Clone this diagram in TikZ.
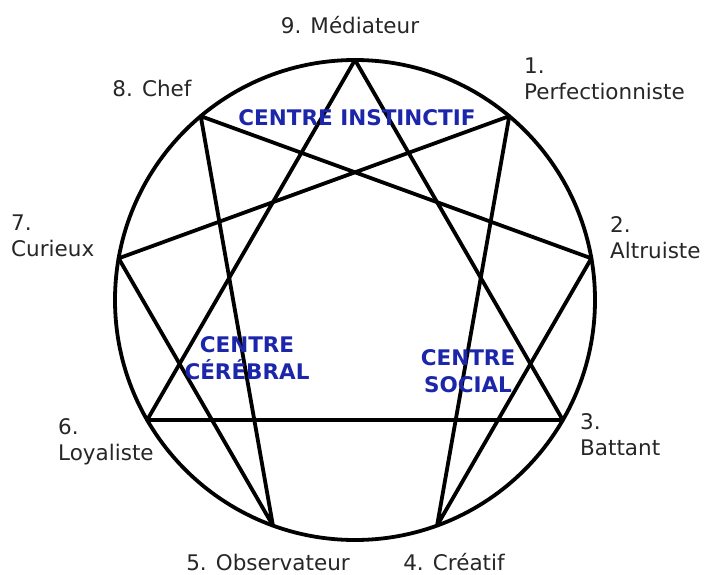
\documentclass[tikz,border=0pt]{standalone}
\usepackage{fontspec}
\setmainfont{DejaVu Sans}
\usetikzlibrary{calc}
\definecolor{cblue}{RGB}{28,38,170}
\begin{document}
\begin{tikzpicture}[
  line/.style={line width=3.8pt, line join=round, line cap=round},
  lab/.style={font=\fontsize{21.5}{26}\selectfont, inner sep=0pt, text=black!85},
  blab/.style={font=\bfseries\fontsize{21.5}{27}\selectfont, inner sep=0pt, text=cblue, align=center}
]
\useasboundingbox (0,0) rectangle (707pt,-575pt);
\coordinate (c) at (355pt,-300pt);
\foreach \k in {0,...,8}{
  \pgfmathsetmacro{\a}{90-40*\k}
  \coordinate (p\k) at ([shift={(\a:240pt)}]c);
}
\draw[line] (c) circle (240pt);
\draw[line] (p0) -- (p3) -- (p6) -- cycle;
\draw[line] (p1) -- (p4) -- (p2) -- (p8) -- (p5) -- (p7) -- cycle;

\node[lab] (l9) at (350pt,-25pt) {9. Médiateur};
\node[lab, align=left, anchor=west] (l1) at (524pt,-79pt) {1.\\Perfectionniste};
\node[lab, align=left, anchor=west] (l2) at (610pt,-238pt) {2.\\Altruiste};
\node[lab, align=left, anchor=west] (l3) at (580pt,-435pt) {3.\\Battant};
\node[lab] (l4) at (454pt,-562pt) {4. Créatif};
\node[lab] (l5) at (268pt,-562pt) {5. Observateur};
\node[lab, align=left, anchor=west] (l6) at (58pt,-442pt) {6.\\Loyaliste};
\node[lab, align=left, anchor=west] (l7) at (11pt,-236pt) {7.\\Curieux};
\node[lab] (l8) at (152pt,-88pt) {8. Chef};

\node[blab] (ci) at (357pt,-118pt) {CENTRE INSTINCTIF};
\node[blab] (cc) at (247pt,-358pt) {CENTRE\\CÉRÉBRAL};
\node[blab] (cs) at (468pt,-371pt) {CENTRE\\SOCIAL};
\end{tikzpicture}
\end{document}
